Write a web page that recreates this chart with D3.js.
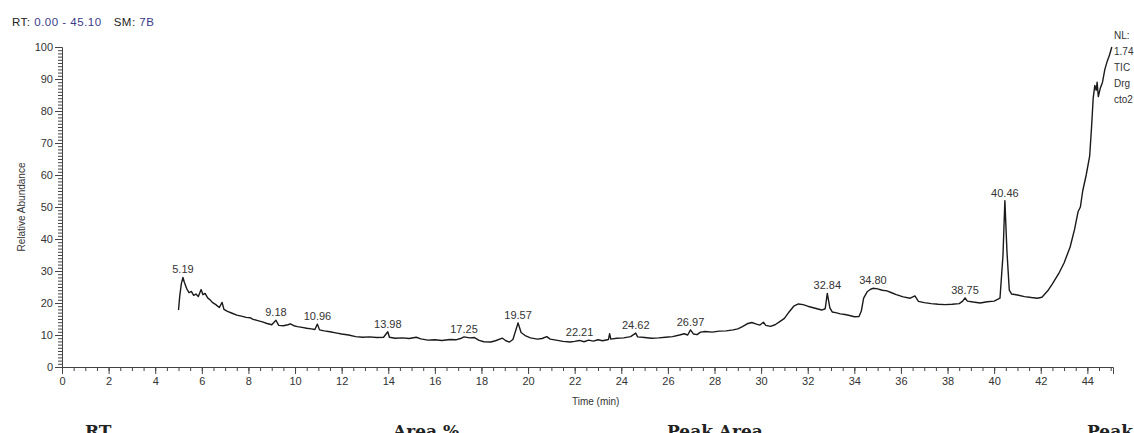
<!DOCTYPE html>
<html>
<head>
<meta charset="utf-8">
<script src="https://d3js.org/d3.v7.min.js"></script>
<style>
  body { margin: 0; background: #fff; overflow: hidden; }
  svg { display: block; font-family: "Liberation Sans", Arial, sans-serif; }
</style>
</head>
<body>
<svg id="chart" width="1134" height="433"></svg>
<script>
// retention time (min) and relative abundance
const rt = [5.00, 5.05, 5.12, 5.19, 5.25, 5.35, 5.45, 5.55, 5.65, 5.75, 5.85, 5.97, 6.05, 6.14, 6.25, 6.35, 6.45, 6.60, 6.75, 6.87,
  6.95, 7.10, 7.30, 7.50, 7.70, 7.90, 8.07, 8.20, 8.40, 8.60, 8.80, 9.00, 9.18, 9.30, 9.50, 9.70, 9.80, 9.95, 10.10, 10.30,
  10.50, 10.70, 10.85, 10.96, 11.05, 11.25, 11.50, 11.80, 12.00, 12.30, 12.60, 12.90, 13.20, 13.50, 13.80, 13.98, 14.05, 14.30, 14.60, 14.90,
  15.20, 15.40, 15.70, 16.00, 16.30, 16.65, 16.90, 17.10, 17.25, 17.50, 17.70, 17.90, 18.10, 18.40, 18.60, 18.90, 19.05, 19.20, 19.35, 19.57,
  19.70, 19.90, 20.10, 20.40, 20.60, 20.80, 20.95, 21.20, 21.50, 21.80, 22.00, 22.21, 22.40, 22.60, 22.80, 23.00, 23.20, 23.45, 23.50, 23.55,
  23.80, 24.10, 24.40, 24.62, 24.70, 25.00, 25.30, 25.60, 25.90, 26.20, 26.50, 26.70, 26.85, 26.97, 27.10, 27.25, 27.40, 27.60, 27.90, 28.20,
  28.50, 28.80, 29.00, 29.20, 29.40, 29.60, 29.80, 29.95, 30.10, 30.20, 30.40, 30.60, 30.80, 31.00, 31.20, 31.40, 31.60, 31.80, 32.00, 32.20,
  32.40, 32.60, 32.75, 32.84, 32.95, 33.05, 33.20, 33.40, 33.60, 33.80, 34.00, 34.20, 34.30, 34.40, 34.55, 34.70, 34.80, 35.00, 35.20, 35.40,
  35.60, 35.80, 36.10, 36.40, 36.60, 36.75, 37.00, 37.30, 37.60, 37.90, 38.20, 38.50, 38.65, 38.75, 38.85, 39.10, 39.40, 39.70, 40.00, 40.25,
  40.38, 40.46, 40.55, 40.65, 40.75, 41.00, 41.30, 41.60, 41.85, 42.05, 42.30, 42.50, 42.80, 43.00, 43.26, 43.45, 43.60, 43.70, 43.80, 43.95,
  44.10, 44.18, 44.25, 44.32, 44.38, 44.42, 44.47, 44.55, 44.65, 44.75, 44.85, 44.95, 45.05];
const abundance = [17.8, 22.0, 26.0, 28.0, 26.5, 24.5, 23.2, 23.6, 22.4, 22.8, 22.0, 24.2, 22.6, 23.0, 21.6, 21.0, 20.2, 19.5, 18.6, 20.2,
  18.0, 17.4, 16.8, 16.2, 15.9, 15.5, 15.4, 14.9, 14.5, 14.1, 13.6, 13.2, 14.6, 13.0, 12.9, 13.2, 13.5, 12.9, 12.6, 12.4,
  12.1, 11.9, 11.7, 13.4, 11.6, 11.3, 11.0, 10.6, 10.3, 10.0, 9.5, 9.3, 9.4, 9.2, 9.3, 11.0, 9.3, 9.0, 9.1, 8.9,
  9.3, 8.8, 8.4, 8.5, 8.3, 8.6, 8.5, 8.9, 9.4, 9.1, 9.2, 8.3, 7.9, 7.8, 8.2, 9.0, 8.2, 7.8, 8.6, 13.8,
  10.8, 9.7, 9.1, 8.7, 8.9, 9.5, 8.7, 8.4, 8.0, 7.8, 8.0, 8.3, 7.9, 8.4, 8.1, 8.5, 8.2, 8.6, 10.4, 8.7,
  9.0, 9.1, 9.5, 10.6, 9.4, 9.2, 9.0, 9.1, 9.3, 9.5, 10.0, 10.4, 10.0, 11.6, 10.3, 10.1, 10.9, 11.1, 10.9, 11.2,
  11.3, 11.6, 11.9, 12.6, 13.5, 13.9, 13.4, 13.1, 14.0, 13.0, 12.7, 13.2, 14.2, 15.2, 17.2, 19.0, 19.7, 19.5, 19.0, 18.6,
  18.2, 17.8, 18.2, 23.0, 18.5, 17.2, 17.0, 16.6, 16.4, 16.1, 15.7, 15.8, 17.5, 21.5, 23.5, 24.3, 24.6, 24.4, 24.0, 23.8,
  23.2, 22.6, 21.9, 21.5, 22.2, 20.5, 20.1, 19.8, 19.6, 19.5, 19.6, 19.8, 20.6, 21.6, 20.6, 20.3, 20.0, 20.4, 20.6, 21.5,
  35.0, 52.0, 36.0, 24.0, 22.8, 22.5, 22.0, 21.7, 21.5, 21.8, 23.8, 26.0, 29.6, 32.5, 37.5, 43.0, 48.5, 50.0, 55.0, 60.0,
  66.0, 75.0, 84.0, 88.0, 86.5, 89.0, 84.5, 87.0, 89.0, 93.0, 95.5, 97.5, 100.0];

// labelled peaks
const peakLabels = ["5.19", "9.18", "10.96", "13.98", "17.25", "19.57", "22.21", "24.62", "26.97", "32.84", "34.80", "38.75", "40.46"];

const xTicks = [0, 2, 4, 6, 8, 10, 12, 14, 16, 18, 20, 22, 24, 26, 28, 30, 32, 34, 36, 38, 40, 42, 44];
const yTicks = [0, 10, 20, 30, 40, 50, 60, 70, 80, 90, 100];

const data = rt.map((t, i) => ({ t: t, v: abundance[i] }));

const svg = d3.select("#chart");
const x = d3.scaleLinear().domain([0, 45.1]).range([62, 1113]);
const y = d3.scaleLinear().domain([0, 100]).range([367, 47]);

// header
const head = svg.append("text").attr("x", 12).attr("y", 26)
  .style("font-size", "11.5px").style("letter-spacing", "0.5px");
head.append("tspan").attr("fill", "#222").text("RT: ");
head.append("tspan").attr("fill", "#3a3a8a").text("0.00 - 45.10");
head.append("tspan").attr("fill", "#222").attr("dx", 12).text("SM: ");
head.append("tspan").attr("fill", "#3a3a8a").text("7B");

// y axis: minor every 1, major every 10
const gy = svg.append("g").attr("transform", "translate(62,0)");
gy.call(d3.axisLeft(y).tickValues(d3.range(0, 101, 1)).tickSize(4).tickFormat(""));
gy.call(g => g.select(".domain").remove());
gy.append("g").call(d3.axisLeft(y).tickValues(yTicks).tickSize(7).tickPadding(2).tickFormat(d3.format("d")))
  .call(g => g.selectAll("text").style("font-size", "11px").attr("fill", "#333"));
gy.selectAll("line").attr("stroke", "#444");
gy.selectAll(".domain").attr("stroke", "#444");

svg.append("text")
  .attr("transform", "translate(25,207) rotate(-90)")
  .attr("text-anchor", "middle")
  .attr("fill", "#333")
  .style("font-size", "10px")
  .text("Relative Abundance");

// x axis: minor every 0.5, major every 2
const gx = svg.append("g").attr("transform", "translate(0,367)");
gx.call(d3.axisBottom(x).tickValues(d3.range(0, 45.1, 0.5)).tickSize(4).tickFormat(""));
gx.call(g => g.select(".domain").remove());
gx.append("g").call(d3.axisBottom(x).tickValues(xTicks).tickSize(7).tickPadding(3).tickFormat(d3.format("d")))
  .call(g => g.selectAll("text").style("font-size", "11px").attr("fill", "#333"));
gx.selectAll("line").attr("stroke", "#444");
gx.selectAll(".domain").attr("stroke", "#444");

svg.append("text")
  .attr("x", x(22.9)).attr("y", 405)
  .attr("text-anchor", "middle")
  .attr("fill", "#333")
  .style("font-size", "10px")
  .text("Time (min)");

// trace
const line = d3.line().x(d => x(d.t)).y(d => y(d.v));
svg.append("path")
  .datum(data)
  .attr("d", line)
  .attr("fill", "none")
  .attr("stroke", "#1a1a1a")
  .attr("stroke-width", 1.4)
  .attr("stroke-linejoin", "round");

// peak labels
svg.append("g").selectAll("text")
  .data(peakLabels)
  .join("text")
  .attr("x", d => x(+d))
  .attr("y", d => y(data.find(p => Math.abs(p.t - +d) < 0.001).v) - 4)
  .attr("text-anchor", "middle")
  .attr("fill", "#333")
  .style("font-size", "11px")
  .text(d => d);

// side info, only the part that shows inside the page
const info = ["NL:", "1.74", "TIC", "Drg", "cto2"];
svg.append("g").selectAll("text")
  .data(info)
  .join("text")
  .attr("x", 1114)
  .attr("y", (d, i) => 39 + i * 16)
  .attr("fill", "#333")
  .style("font-size", "10px")
  .text(d => d);

// table header below, cut off by the page edge
const tableHead = [["RT", 85], ["Area %", 393], ["Peak Area", 667], ["Peak I", 1087]];
svg.append("g").selectAll("text")
  .data(tableHead)
  .join("text")
  .attr("x", d => d[1])
  .attr("y", 437)
  .attr("fill", "#222")
  .style("font-family", "'DejaVu Serif', serif")
  .style("font-size", "17px")
  .style("font-weight", "bold")
  .text(d => d[0]);
</script>
</body>
</html>
